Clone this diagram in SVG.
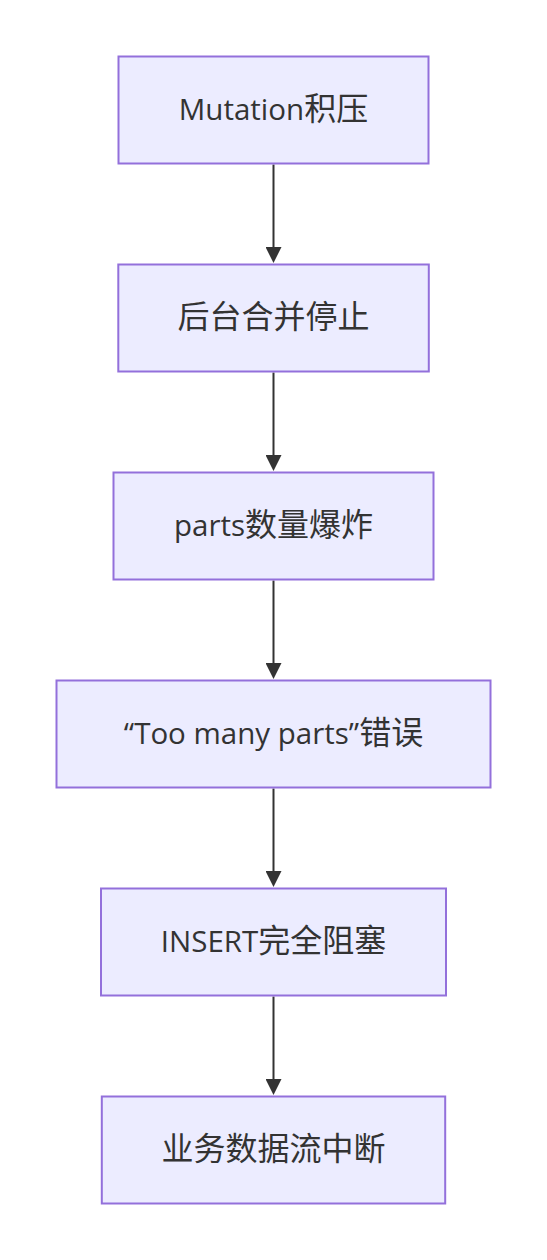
<svg xmlns="http://www.w3.org/2000/svg" width="547" height="1260" viewBox="0 0 547 1260">
<style>
.node rect{fill:#ECECFF;stroke:#9370DB;stroke-width:2}
.node text{fill:#333333;text-anchor:middle;font-family:"Open Sans","Noto Sans CJK SC",sans-serif;font-size:29.5px}
.cjk{font-family:"Noto Sans CJK SC",sans-serif;font-size:32px}
.edge{stroke:#333333;stroke-width:2;fill:none;marker-end:url(#arrow)}
</style>
<defs>
<marker id="arrow" markerUnits="userSpaceOnUse" markerWidth="16" markerHeight="16" viewBox="0 0 16 16" refX="9" refY="8" orient="auto">
<path d="M0,0 L16,8 L0,16 z" fill="#333333"/>
</marker>
</defs>
<rect width="547" height="1260" fill="#ffffff"/>
<g id="connectors">
<line class="edge" x1="273.5" y1="164.5" x2="273.5" y2="256"/>
<line class="edge" x1="273.5" y1="372.5" x2="273.5" y2="464"/>
<line class="edge" x1="273.5" y1="580.5" x2="273.5" y2="672"/>
<line class="edge" x1="273.5" y1="788.5" x2="273.5" y2="880"/>
<line class="edge" x1="273.5" y1="996.5" x2="273.5" y2="1088"/>
</g>
<g id="n1" class="node">
<rect x="118.5" y="56.5" width="310" height="107"/>
<text x="273.5" y="120">Mutation<tspan class="cjk">积压</tspan></text>
</g>
<g id="n2" class="node">
<rect x="118.3" y="264.5" width="310.5" height="107"/>
<text x="273.5" y="328"><tspan class="cjk">后台合并停止</tspan></text>
</g>
<g id="n3" class="node">
<rect x="113.5" y="472.5" width="320" height="107"/>
<text x="273.5" y="536">parts<tspan class="cjk">数量爆炸</tspan></text>
</g>
<g id="n4" class="node">
<rect x="56.5" y="680.5" width="434" height="107"/>
<text x="273.5" y="744">“Too many parts”<tspan class="cjk">错误</tspan></text>
</g>
<g id="n5" class="node">
<rect x="101" y="888.5" width="345" height="107"/>
<text x="273.5" y="952">INSERT<tspan class="cjk">完全阻塞</tspan></text>
</g>
<g id="n6" class="node">
<rect x="101.8" y="1096.5" width="343.4" height="107"/>
<text x="273.5" y="1160"><tspan class="cjk">业务数据流中断</tspan></text>
</g>
</svg>
